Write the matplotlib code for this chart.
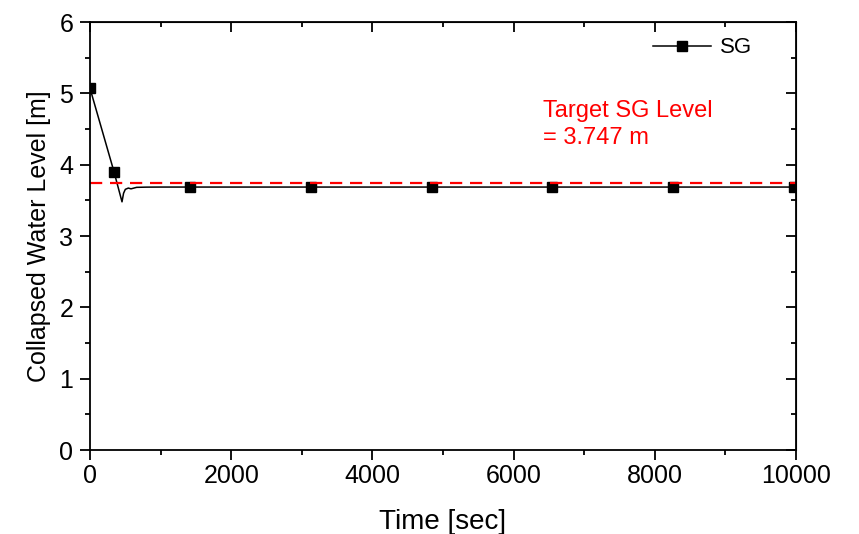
import matplotlib
matplotlib.use('Agg')
import matplotlib.pyplot as plt
from matplotlib.ticker import MultipleLocator

plt.rcParams['font.family'] = ['Liberation Sans', 'DejaVu Sans']

# SG collapsed water level history
time_sec = [0, 340, 453, 475, 500, 543, 580, 660, 800, 1000, 1420,
            3130, 4840, 6550, 8260, 9970, 10000]
level_m = [5.07, 3.90, 3.48, 3.60, 3.655, 3.673, 3.662, 3.683, 3.686, 3.687, 3.687,
           3.687, 3.687, 3.687, 3.687, 3.687, 3.687]
marker_idx = [0, 1, 10, 11, 12, 13, 14, 15]

target_level = 3.747
target_text = 'Target SG Level\n= 3.747 m'

fig = plt.figure(figsize=(8.59, 5.34), dpi=100)
ax = fig.add_axes([0.1048, 0.157, 0.8219, 0.8018])

ax.plot(time_sec, level_m, color='black', lw=1.1, marker='s', ms=7,
        markevery=marker_idx, label='SG')
ax.axhline(target_level, color='red', lw=1.6, dashes=(5.5, 3.5))

ax.text(6420, 4.91, target_text, color='red', fontsize=17, va='top',
        ha='left', linespacing=1.3)

ax.set_xlim(0, 10000)
ax.set_ylim(0, 6)
ax.xaxis.set_major_locator(MultipleLocator(2000))
ax.xaxis.set_minor_locator(MultipleLocator(1000))
ax.yaxis.set_major_locator(MultipleLocator(1))
ax.yaxis.set_minor_locator(MultipleLocator(0.5))

ax.set_xlabel('Time [sec]', fontsize=20, labelpad=15)
ax.set_ylabel('Collapsed Water Level [m]', fontsize=18, labelpad=6)

for sp in ax.spines.values():
    sp.set_linewidth(1.3)
ax.tick_params(which='major', direction='out', length=7, width=1.3, labelsize=18)
ax.tick_params(which='minor', direction='out', length=3.5, width=1.3)
ax.tick_params(axis='y', pad=5)
ax.tick_params(axis='x', pad=3)

# mirrored ticks on top and right, pointing inward
top = ax.secondary_xaxis('top')
top.xaxis.set_major_locator(MultipleLocator(2000))
top.xaxis.set_minor_locator(MultipleLocator(1000))
top.tick_params(which='major', direction='in', length=7, width=1.3, labeltop=False)
top.tick_params(which='minor', direction='in', length=3.5, width=1.3)
right = ax.secondary_yaxis('right')
right.yaxis.set_major_locator(MultipleLocator(1))
right.yaxis.set_minor_locator(MultipleLocator(0.5))
right.tick_params(which='major', direction='in', length=7, width=1.3, labelright=False)
right.tick_params(which='minor', direction='in', length=3.5, width=1.3)

ax.legend(loc='upper right', frameon=False, fontsize=16, handlelength=2.6,
          handletextpad=0.4, borderaxespad=0, bbox_to_anchor=(0.95, 0.985))

fig.savefig('out.png', dpi=100)
